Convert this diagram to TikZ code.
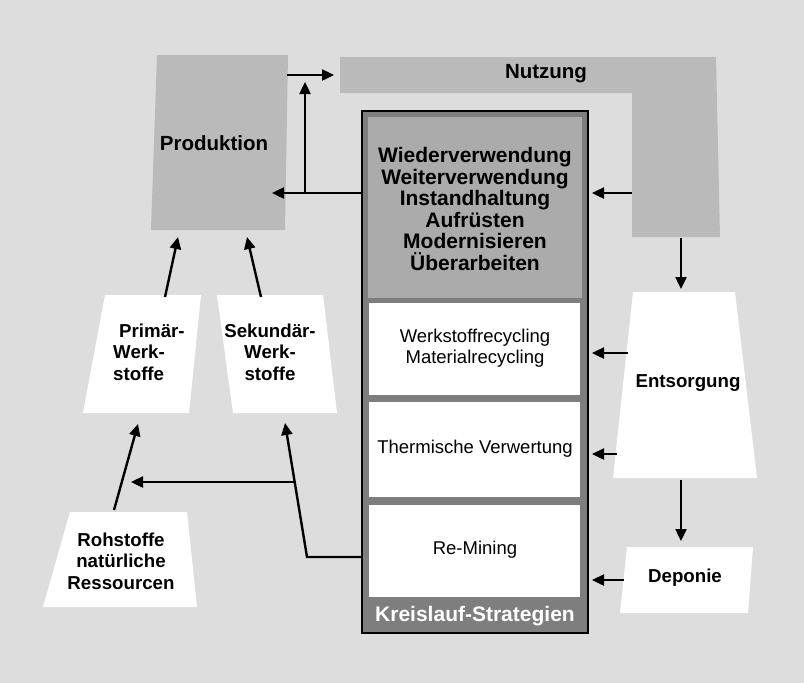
\documentclass[tikz,border=0pt]{standalone}
\usepackage{fontspec}
\setmainfont{Liberation Sans}
\usetikzlibrary{arrows.meta}
\definecolor{bgc}{HTML}{DDDDDD}
\definecolor{shapec}{HTML}{BABABA}
\definecolor{topc}{HTML}{ABABAB}
\definecolor{framec}{HTML}{7E7E7E}
\begin{document}
\begin{tikzpicture}[x=1pt,y=-1pt,
  arr/.style={line width=2.4pt,-{Triangle[length=12pt,width=11pt]}},
  plain/.style={line width=2.4pt},
  boldtxt/.style={font=\fontsize{18.7}{21.5}\selectfont\bfseries,align=center,inner sep=0pt},
  regtxt/.style={font=\fontsize{18.5}{21}\selectfont,align=center,inner sep=0pt},
  bigtxt/.style={font=\fontsize{21}{21.6}\selectfont\bfseries,align=center,inner sep=0pt},
  headtxt/.style={font=\fontsize{20.5}{22}\selectfont\bfseries,inner sep=0pt},
  whitebox/.style={fill=white,draw=none},
  greybox/.style={fill=shapec,draw=none}]
\useasboundingbox (0,0) rectangle (804,683);
\fill[bgc] (0,0) rectangle (804,683);

% grey shapes: Produktion and Nutzung
\fill[greybox] (157,55) -- (288,55) -- (285,230) -- (151,230) -- cycle;
\fill[greybox] (340,57) -- (716,57) -- (720,237) -- (632,237) -- (632,93) -- (340,93) -- cycle;
\node[headtxt] (prod) at (214,143) {Produktion};
\node[headtxt] (nutz) at (546,74) {Nutzung};

% white shapes
\fill[whitebox] (105,295) -- (201,295) -- (189,413) -- (83,413) -- cycle;
\fill[whitebox] (217,295) -- (323,295) -- (337,413) -- (233,413) -- cycle;
\fill[whitebox] (70,512) -- (187,512) -- (197,607) -- (43,607) -- cycle;
\fill[whitebox] (633,292) -- (735,292) -- (757,478) -- (613,478) -- cycle;
\fill[whitebox] (627,547) -- (753,547) -- (748,613) -- (620,613) -- cycle;

\node[boldtxt,align=left,anchor=west] (prim) at (113,352) {\hspace*{6pt}Primär-\\Werk-\\stoffe};
\node[boldtxt] (sek) at (270,352) {Sekundär-\\Werk-\\stoffe};
\node[boldtxt] (roh) at (121,561) {Rohstoffe\\natürliche\\Ressourcen};
\node[boldtxt] (ents) at (688,383) {Entsorgung};
\node[boldtxt] (depo) at (685,578) {Deponie};

% Kreislauf-Strategien box
\filldraw[fill=framec,draw=black,line width=1.2pt] (362,111) rectangle (588,633);
\fill[topc] (368,117) rectangle (582,298);
\fill[white] (369,303) rectangle (580,395);
\fill[white] (369,402) rectangle (580,497);
\fill[white] (369,505) rectangle (580,597);
\node[bigtxt] (wv) at (475,209) {Wiederverwendung\\Weiterverwendung\\Instandhaltung\\Aufrüsten\\Modernisieren\\Überarbeiten};
\node[regtxt] (wr) at (475,348) {Werkstoffrecycling\\Materialrecycling};
\node[regtxt] (tv) at (475,449) {Thermische Verwertung};
\node[regtxt] (rm) at (475,550) {Re-Mining};
\node[font=\fontsize{21}{22}\selectfont\bfseries,text=white,inner sep=0pt] (ks) at (475,616) {Kreislauf-Strategien};

% connector end points
\coordinate (prodE) at (287,75);
\coordinate (nutzW) at (334,75);
\coordinate (stratW) at (362,193);
\coordinate (prodR) at (272,193);
\coordinate (branch) at (305,193);
\coordinate (branchTop) at (305,82);
\coordinate (legW) at (632,193);
\coordinate (stratE1) at (592,193);
\coordinate (legS) at (681,238);
\coordinate (entsN) at (681,289);
\coordinate (entsW1) at (628,353);
\coordinate (stratE2) at (592,353);
\coordinate (entsW2) at (617,454);
\coordinate (stratE3) at (592,454);
\coordinate (entsS) at (681,480);
\coordinate (depoN) at (681,541);
\coordinate (depoW) at (624,580);
\coordinate (stratE4) at (592,580);
\coordinate (primN) at (165,297);
\coordinate (prodS1) at (178,237);
\coordinate (sekN) at (261,297);
\coordinate (prodS2) at (247,237);
\coordinate (rohN) at (114,510);
\coordinate (primS) at (138,424);
\coordinate (rmW) at (362,557);
\coordinate (bend) at (307,557);
\coordinate (sekS) at (285,423);
\coordinate (split) at (294,482);
\coordinate (rohTarget) at (131,482);

% connectors
\draw[arr] (prodE) -- (nutzW);
\draw[arr] (stratW) -- (prodR);
\draw[arr] (branch) -- (branchTop);
\draw[arr] (legW) -- (stratE1);
\draw[arr] (legS) -- (entsN);
\draw[arr] (entsW1) -- (stratE2);
\draw[arr] (entsW2) -- (stratE3);
\draw[arr] (entsS) -- (depoN);
\draw[arr] (depoW) -- (stratE4);
\draw[arr] (primN) -- (prodS1);
\draw[arr] (sekN) -- (prodS2);
\draw[arr] (rohN) -- (primS);
\draw[arr] (rmW) -- (bend) -- (sekS);
\draw[arr] (split) -- (rohTarget);
\end{tikzpicture}
\end{document}
